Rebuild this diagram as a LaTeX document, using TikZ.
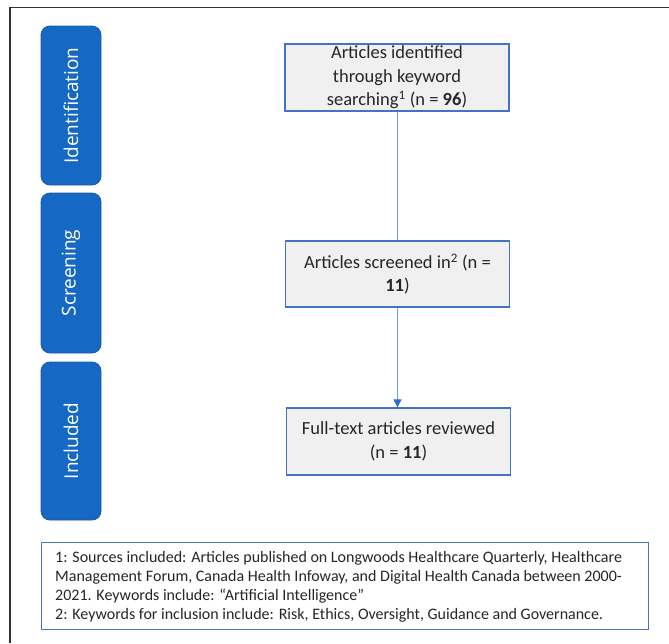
\documentclass[tikz,border=0pt]{standalone}
\usepackage{fontspec}
\setmainfont{Carlito}
\newfontfamily\pillfont{Open Sans}
\usetikzlibrary{arrows.meta}
\definecolor{pillblue}{RGB}{21,104,196}
\definecolor{pilledge}{RGB}{30,90,160}
\definecolor{boxfill}{RGB}{240,240,240}
\definecolor{boxedge}{RGB}{68,114,196}
\definecolor{linkblue}{RGB}{110,160,225}
\definecolor{tipblue}{RGB}{40,110,200}
\definecolor{framegray}{RGB}{50,50,50}
\tikzset{
  pill/.style={draw=pilledge, line width=0.8pt, fill=pillblue, rounded corners=9pt},
  pilltext/.style={text=white, rotate=90, font=\pillfont\fontsize{19}{22}\selectfont, inner sep=0pt},
  stepbox/.style={draw=boxedge, line width=1.3pt, fill=boxfill, minimum width=224pt, align=center, inner sep=0pt, font=\fontsize{18.5}{23.5}\selectfont, text=black!85},
  notebox/.style={draw=boxedge, line width=1.3pt, fill=white, minimum width=607pt, minimum height=87pt, inner sep=0pt},
  link/.style={draw=linkblue, line width=1pt},
}
\begin{document}
\begin{tikzpicture}[x=1pt,y=-1pt]
\useasboundingbox (0,0) rectangle (669,643);
% frame
\draw[framegray, line width=1.5pt] (669,7.5) -- (10,7.5) -- (10,643);
% pills
\draw[pill] (41,26) rectangle (101,185);
\node[pilltext] (pid) at (71,105.5) {Identification};
\draw[pill] (41,193) rectangle (101,353);
\node[pilltext] (pscr) at (71,273) {Screening};
\draw[pill] (41,362) rectangle (101,520);
\node[pilltext] (pinc) at (71,441) {Included};
% boxes
\node[stepbox, minimum height=67pt] (b1) at (397,77.5) {Articles identified\\through keyword\\searching\textsuperscript{1} (n = \textbf{96})};
\node[stepbox, minimum height=66pt] (b2) at (397.5,274) {Articles screened in\textsuperscript{2} (n =\\\textbf{11})};
\node[stepbox, minimum height=67pt] (b3) at (398.5,441.5) {Full-text articles reviewed\\(n = \textbf{11})};
% connectors
\draw[link] (b1.south) -- (b1.south |- b2.north);
\draw[link, -{Triangle[length=8pt,width=8pt,color=tipblue]}] (b2.south) -- (b2.south |- b3.north);
% footnote
\node[notebox, anchor=north west] (note) at (41,542) {};
\node[anchor=north west, align=left, inner sep=0pt, font=\fontsize{16}{19}\selectfont, text=black!85] (notetext) at (55,551) {1: Sources included: Articles published on Longwoods Healthcare Quarterly, Healthcare\\Management Forum, Canada Health Infoway, and Digital Health Canada between 2000-\\2021. Keywords include: “Artificial Intelligence”\\2: Keywords for inclusion include: Risk, Ethics, Oversight, Guidance and Governance.};
\end{tikzpicture}
\end{document}
